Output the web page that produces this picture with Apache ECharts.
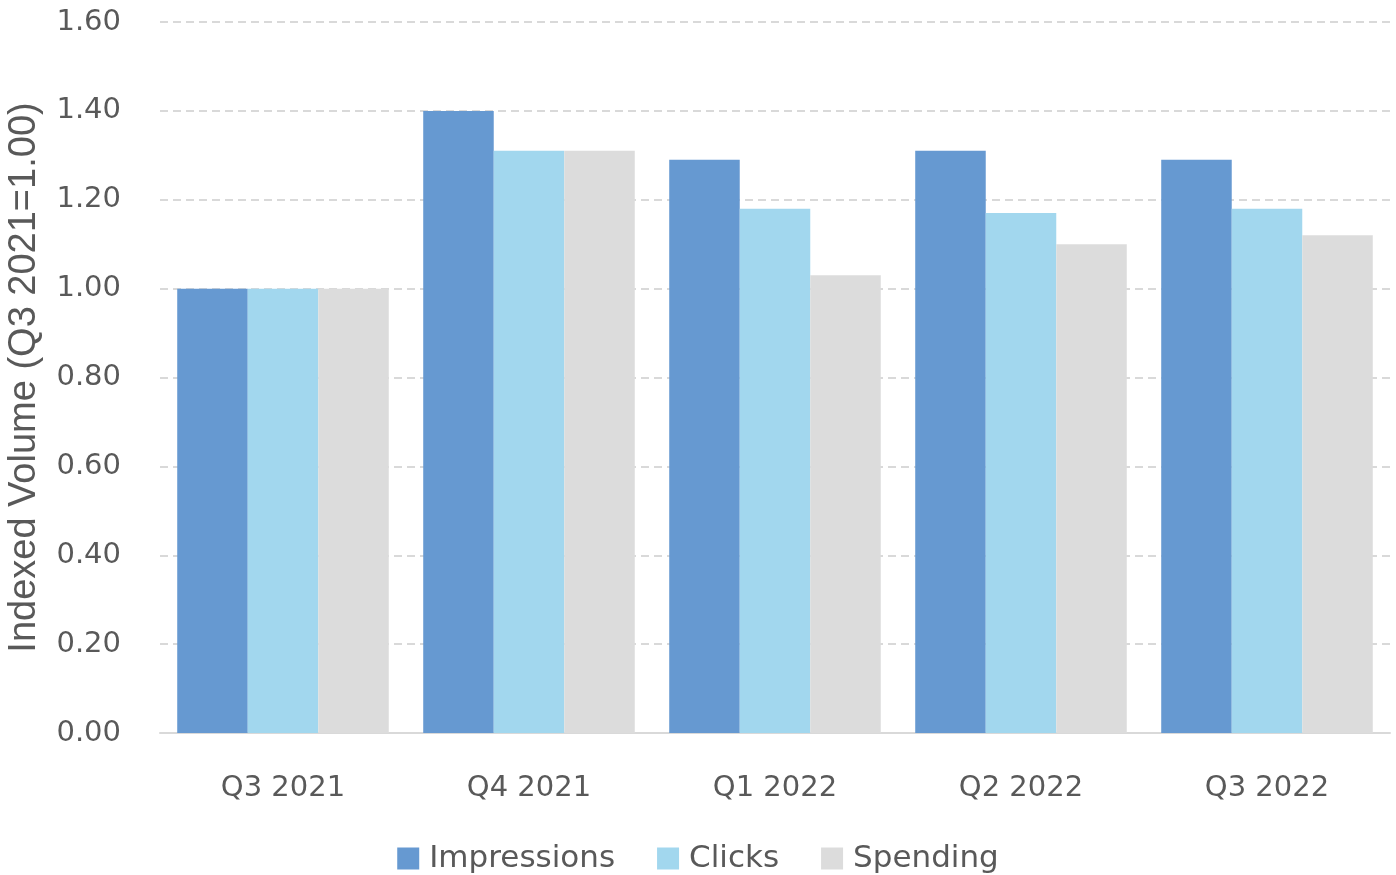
<!DOCTYPE html>
<html>
<head>
<meta charset="utf-8">
<script src="https://cdn.jsdelivr.net/npm/echarts@6/dist/echarts.min.js"></script>
<style>
  html, body { margin: 0; padding: 0; background: #ffffff; }
  #chart { width: 1396px; height: 875px; }
</style>
</head>
<body>
<div id="chart"></div>
<script>
// Quarterly volumes, indexed so that Q3 2021 = 1.00
const quarters = ['Q3 2021', 'Q4 2021', 'Q1 2022', 'Q2 2022', 'Q3 2022'];
const impressions = [1.00, 1.40, 1.29, 1.31, 1.29];
const clicks = [1.00, 1.31, 1.18, 1.17, 1.18];
const spending = [1.00, 1.31, 1.03, 1.10, 1.12];
const seriesNames = ['Impressions', 'Clicks', 'Spending'];

const textColor = '#595959';
const gridColor = '#d9d9d9';
const font = 'DejaVu Sans';

const chart = echarts.init(document.getElementById('chart'), null, { renderer: 'canvas' });

const makeBar = (name, data, color) => ({
  name: name,
  type: 'bar',
  data: data,
  barGap: '0%',
  barCategoryGap: '14%',
  itemStyle: { color: color },
  emphasis: { disabled: true }
});

chart.setOption({
  animation: false,
  backgroundColor: '#ffffff',
  grid: { left: 160, right: 6, top: 22, bottom: 142, containLabel: false, outerBoundsMode: 'none' },
  legend: {
    data: seriesNames,
    top: 838,
    left: 'center',
    icon: 'rect',
    itemWidth: 22,
    itemHeight: 22,
    itemGap: 42,
    textStyle: { color: textColor, fontSize: 31, fontFamily: font, padding: [0, 0, 0, 5] }
  },
  xAxis: {
    type: 'category',
    data: quarters,
    axisTick: { show: false },
    axisLine: { lineStyle: { color: gridColor, width: 2 } },
    axisLabel: { color: textColor, fontSize: 29, fontFamily: font, margin: 41 }
  },
  yAxis: {
    type: 'value',
    min: 0,
    max: 1.6,
    interval: 0.2,
    name: 'Indexed Volume (Q3 2021=1.00)',
    nameLocation: 'middle',
    nameGap: 116,
    nameTextStyle: { color: textColor, fontSize: 38, fontFamily: 'Liberation Sans' },
    axisLine: { show: false },
    axisTick: { show: false },
    axisLabel: {
      color: textColor,
      fontSize: 29,
      fontFamily: font,
      margin: 39,
      formatter: v => v.toFixed(2)
    },
    splitLine: { lineStyle: { color: gridColor, width: 2, type: [8, 5] } }
  },
  series: [
    makeBar(seriesNames[0], impressions, '#6699d1'),
    makeBar(seriesNames[1], clicks, '#a2d7ee'),
    makeBar(seriesNames[2], spending, '#dcdcdc')
  ]
});
</script>
</body>
</html>
